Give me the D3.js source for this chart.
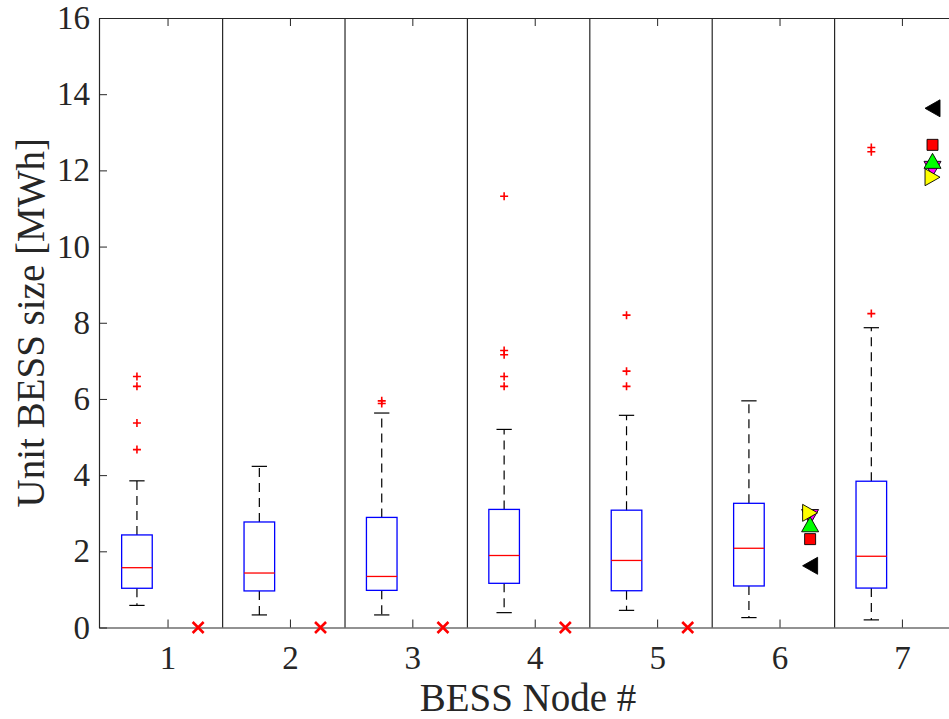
<!DOCTYPE html>
<html>
<head>
<meta charset="utf-8">
<script src="https://cdn.jsdelivr.net/npm/d3@7"></script>
<style>
  html, body { margin: 0; padding: 0; background: #fff; }
  svg { display: block; }
</style>
</head>
<body>
<div id="chart"></div>
<script>
// ---------- data ----------
const nodes     = [1, 2, 3, 4, 5, 6, 7];
const q1        = [1.03, 0.96, 0.975, 1.16, 0.965, 1.09, 1.035];
const medians   = [1.57, 1.43, 1.34, 1.89, 1.76, 2.08, 1.87];
const q3        = [2.43, 2.77, 2.89, 3.10, 3.08, 3.26, 3.84];
const whiskLow  = [0.58, 0.33, 0.33, 0.39, 0.45, 0.26, 0.20];
const whiskHigh = [3.85, 4.23, 5.63, 5.20, 5.57, 5.95, 7.87];
const outliers  = [[6.59, 6.33, 5.37, 4.67], [], [5.95, 5.88], [11.32, 7.27, 7.16, 6.59, 6.33], [8.20, 6.73, 6.33], [], [12.60, 12.49, 8.24]];
const zeroNodes  = [1, 2, 3, 4, 5];
const zeroValues = [0, 0, 0, 0, 0];
const methodNodes  = [6, 7];
const methodShapes = ["left", "square", "down", "up", "right"];
const methodColors = ["#000000", "#ff0000", "#ff00ff", "#00ff00", "#ffff00"];
const methodNode6  = [1.62, 2.32, 2.90, 2.71, 3.01];
const methodNode7  = [13.63, 12.67, 12.04, 12.25, 11.82];
const yTicks = [0, 2, 4, 6, 8, 10, 12, 14, 16];
const xLabel = "BESS Node #";
const yLabel = "Unit BESS size [MWh]";

// ---------- layout ----------
const W = 949, H = 719;
const pL = 99, pR = 957, pT = 18, pB = 627.5;
const ink = "#262626";
const font = "'Liberation Serif', 'Times New Roman', serif";

const x = d3.scaleLinear().domain([0.44, 7.45]).range([pL, pR]);
const y = d3.scaleLinear().domain([0, 16]).range([pB, pT]);

const svg = d3.select("#chart").append("svg")
  .attr("width", W).attr("height", H)
  .style("background", "#fff");

// separators between nodes
svg.append("g").selectAll("line")
  .data(nodes.slice(0, -1))
  .join("line")
  .attr("x1", d => x(d + 0.45)).attr("x2", d => x(d + 0.45))
  .attr("y1", y(0)).attr("y2", y(16))
  .attr("stroke", ink).attr("stroke-width", 1.2);

// axes
function styleAxis(g, showText) {
  g.selectAll("path.domain").attr("stroke", ink).attr("stroke-width", 1.2);
  g.selectAll(".tick line").attr("stroke", ink).attr("stroke-width", 1);
  g.selectAll(".tick text")
    .attr("fill", ink)
    .style("font-family", font)
    .style("font-size", "33px");
  if (!showText) g.selectAll(".tick text").remove();
}
svg.append("g").attr("transform", `translate(0,${pB})`)
  .call(d3.axisBottom(x).tickValues(nodes).tickFormat(d3.format("d")).tickSizeInner(-8).tickSizeOuter(0).tickPadding(18))
  .call(g => styleAxis(g, true));
svg.append("g").attr("transform", `translate(0,${pT})`)
  .call(d3.axisTop(x).tickValues(nodes).tickSizeInner(-8).tickSizeOuter(0))
  .call(g => styleAxis(g, false));
svg.append("g").attr("transform", `translate(${pL},0)`)
  .call(d3.axisLeft(y).tickValues(yTicks).tickFormat(d3.format("d")).tickSizeInner(-8).tickSizeOuter(0).tickPadding(9))
  .call(g => styleAxis(g, true));
svg.append("g").attr("transform", `translate(${pR},0)`)
  .call(d3.axisRight(y).tickValues(yTicks).tickSizeInner(-8).tickSizeOuter(0))
  .call(g => styleAxis(g, false));

// axis labels
svg.append("text")
  .attr("x", (pL + pR) / 2).attr("y", 711)
  .attr("text-anchor", "middle").attr("fill", ink)
  .style("font-family", font).style("font-size", "39px")
  .text(xLabel);
svg.append("text")
  .attr("transform", `translate(44,${(pT + pB) / 2}) rotate(-90)`)
  .attr("text-anchor", "middle").attr("fill", ink)
  .style("font-family", font).style("font-size", "39px")
  .text(yLabel);

// boxplots
const boxOffset = -0.25, boxHalf = 0.125, capHalf = 0.0625;
const boxes = svg.append("g").selectAll("g")
  .data(nodes.map((n, i) => ({ n, i })))
  .join("g");
const cx = d => x(d.n + boxOffset);
// whiskers (dashed)
boxes.append("line")
  .attr("x1", cx).attr("x2", cx)
  .attr("y1", d => y(q3[d.i])).attr("y2", d => y(whiskHigh[d.i]))
  .attr("stroke", "#000").attr("stroke-width", 1.2).attr("stroke-dasharray", "9,6");
boxes.append("line")
  .attr("x1", cx).attr("x2", cx)
  .attr("y1", d => y(q1[d.i])).attr("y2", d => y(whiskLow[d.i]))
  .attr("stroke", "#000").attr("stroke-width", 1.2).attr("stroke-dasharray", "9,6");
// caps
[whiskHigh, whiskLow].forEach(arr => {
  boxes.append("line")
    .attr("x1", d => x(d.n + boxOffset - capHalf)).attr("x2", d => x(d.n + boxOffset + capHalf))
    .attr("y1", d => y(arr[d.i])).attr("y2", d => y(arr[d.i]))
    .attr("stroke", "#000").attr("stroke-width", 1.2);
});
// box
boxes.append("rect")
  .attr("x", d => x(d.n + boxOffset - boxHalf))
  .attr("width", d => x(d.n + boxOffset + boxHalf) - x(d.n + boxOffset - boxHalf))
  .attr("y", d => y(q3[d.i]))
  .attr("height", d => y(q1[d.i]) - y(q3[d.i]))
  .attr("fill", "none").attr("stroke", "#0000ff").attr("stroke-width", 1.3);
// median
boxes.append("line")
  .attr("x1", d => x(d.n + boxOffset - boxHalf)).attr("x2", d => x(d.n + boxOffset + boxHalf))
  .attr("y1", d => y(medians[d.i])).attr("y2", d => y(medians[d.i]))
  .attr("stroke", "#ff0000").attr("stroke-width", 1.3);
// outliers
const plus = 4;
boxes.each(function(d) {
  const g = d3.select(this);
  outliers[d.i].forEach(v => {
    const px = cx(d), py = y(v);
    g.append("path")
      .attr("d", `M${px - plus},${py}H${px + plus}M${px},${py - plus}V${py + plus}`)
      .attr("stroke", "#ff0000").attr("stroke-width", 1.6).attr("fill", "none");
  });
});

// zero markers (red x)
const xs = 5.5;
svg.append("g").selectAll("path")
  .data(zeroNodes.map((n, i) => ({ n, v: zeroValues[i] })))
  .join("path")
  .attr("d", d => {
    const px = x(d.n + 0.25), py = y(d.v);
    return `M${px - xs},${py - xs}L${px + xs},${py + xs}M${px - xs},${py + xs}L${px + xs},${py - xs}`;
  })
  .attr("stroke", "#ff0000").attr("stroke-width", 2.6).attr("fill", "none");

// method markers for nodes 6 and 7
function shapePath(shape) {
  switch (shape) {
    case "left":  return "M-7.5,0L7.5,-8.5L7.5,8.5Z";
    case "right": return "M7.5,0L-7.5,-8.5L-7.5,8.5Z";
    case "up":    return "M0,-7.5L8.5,7.5L-8.5,7.5Z";
    case "down":  return "M0,7.5L8.5,-7.5L-8.5,-7.5Z";
    default:      return "M-5.5,-5.5H5.5V5.5H-5.5Z";
  }
}
const methodVals = [methodNode6, methodNode7];
const mg = svg.append("g");
methodNodes.forEach((n, j) => {
  mg.append("g").selectAll("path")
    .data(methodShapes.map((s, k) => ({ s, c: methodColors[k], v: methodVals[j][k] })))
    .join("path")
    .attr("transform", d => `translate(${x(n + 0.25)},${y(d.v)})`)
    .attr("d", d => shapePath(d.s))
    .attr("fill", d => d.c)
    .attr("stroke", "#000").attr("stroke-width", 0.9);
});
</script>
</body>
</html>
